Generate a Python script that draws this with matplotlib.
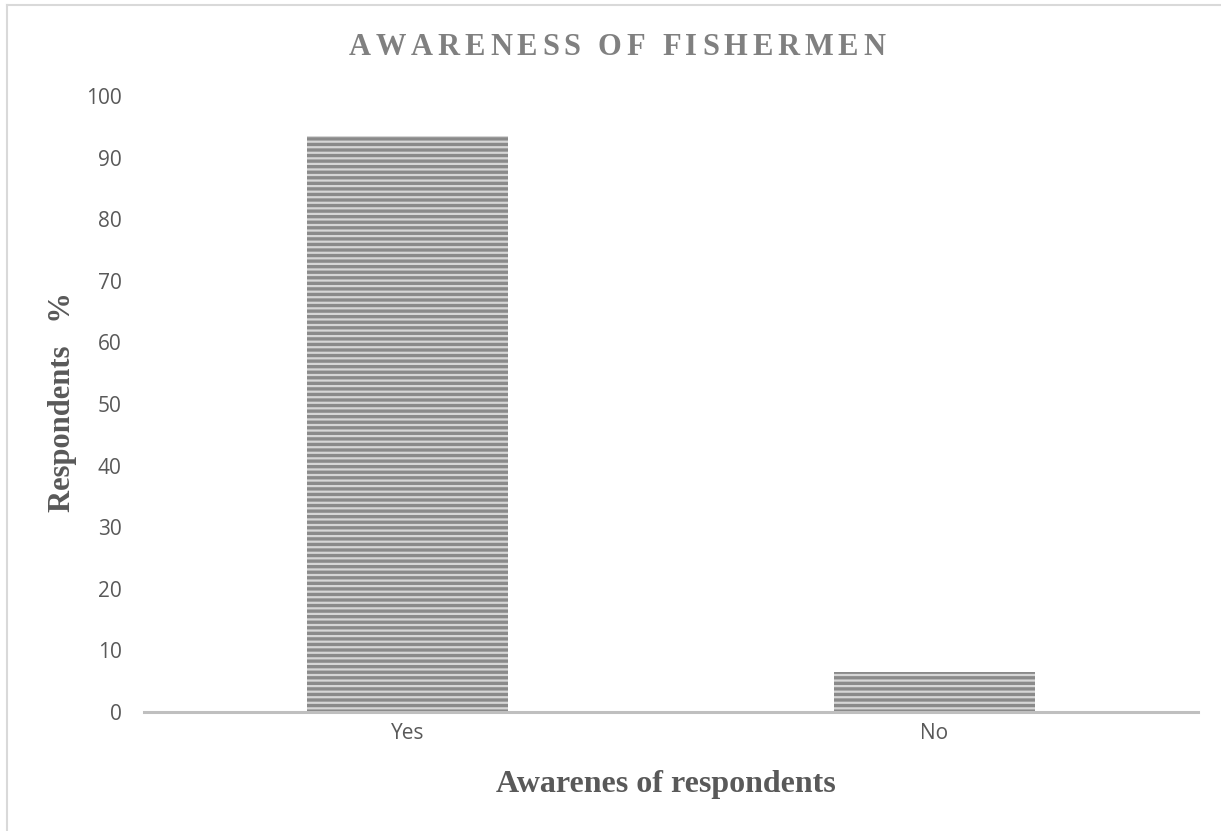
import matplotlib
matplotlib.use("Agg")
import matplotlib.pyplot as plt
from matplotlib.lines import Line2D
from matplotlib.font_manager import FontProperties

categories = ["Yes", "No"]
respondents_pct = [93.5, 6.5]
y_ticks = [0, 10, 20, 30, 40, 50, 60, 70, 80, 90, 100]

title_text = "AWARENESS OF FISHERMEN"
xlabel_text = "Awarenes of respondents"
ylabel_text = "Respondents   %"

W, H, DPI = 1221, 831, 100
plt.rcParams["hatch.linewidth"] = 1.6

fig = plt.figure(figsize=(W / DPI, H / DPI), dpi=DPI)
fig.patch.set_facecolor("white")

# outer chart-area border (top and left edges visible)
fig.add_artist(Line2D([7 / W, 7 / W], [0, 1 - 5 / H], transform=fig.transFigure,
                      color="#d9d9d9", lw=1.5))
fig.add_artist(Line2D([7 / W, 1], [1 - 5 / H, 1 - 5 / H], transform=fig.transFigure,
                      color="#d9d9d9", lw=1.5))

ax = fig.add_axes([144 / W, (H - 712) / H, 1054 / W, 616 / H])
x = list(range(len(categories)))
ax.bar(x, respondents_pct, width=0.38, color="#8a8a8a", edgecolor="#d6d6d6",
       linewidth=0, hatch="---", zorder=2)

ax.set_xlim(-0.5, len(categories) - 0.5)
ax.set_ylim(0, 100)
ax.set_yticks(y_ticks)
ax.set_xticks(x)
ax.set_xticklabels(categories)

for lab in ax.get_yticklabels() + ax.get_xticklabels():
    lab.set_fontfamily("Open Sans")
    lab.set_fontsize(15)
    lab.set_color("#595959")
ax.tick_params(axis="y", length=0, pad=16)
ax.tick_params(axis="x", length=0, pad=8)

for side in ("top", "right", "left"):
    ax.spines[side].set_visible(False)
ax.spines["bottom"].set_color("#bfbfbf")
ax.spines["bottom"].set_linewidth(2.2)
ax.spines["bottom"].set_zorder(3)
ax.set_facecolor("none")

# axis titles
fig.text(666 / W, 1 - 792 / H, xlabel_text, ha="center", va="baseline",
         family="Liberation Serif", weight="bold", size=23, color="#595959")
fig.text(63 / W, 1 - 512 / H, ylabel_text, ha="center", va="bottom", rotation=90,
         family="Liberation Serif", weight="bold", size=22, color="#595959")

# letter-spaced chart title
fig.canvas.draw()
renderer = fig.canvas.get_renderer()
tprops = FontProperties(family="Liberation Serif", weight="bold", size=22)
advances = []
for ch in title_text:
    if ch == " ":
        w1, _, _ = renderer.get_text_width_height_descent("a a", tprops, ismath=False)
        w2, _, _ = renderer.get_text_width_height_descent("aa", tprops, ismath=False)
        w = w1 - w2
    else:
        w, _, _ = renderer.get_text_width_height_descent(ch, tprops, ismath=False)
    advances.append(w)
title_left, title_right = 349, 885
spacing_px = (title_right - title_left - sum(advances)) / (len(title_text) - 1)
px = title_left
baseline = H - 55
for ch, adv in zip(title_text, advances):
    fig.text(px / W, baseline / H, ch, ha="left", va="baseline",
             fontproperties=tprops, color="#808080")
    px += adv + spacing_px

fig.savefig("out.png", dpi=DPI, facecolor="white")
